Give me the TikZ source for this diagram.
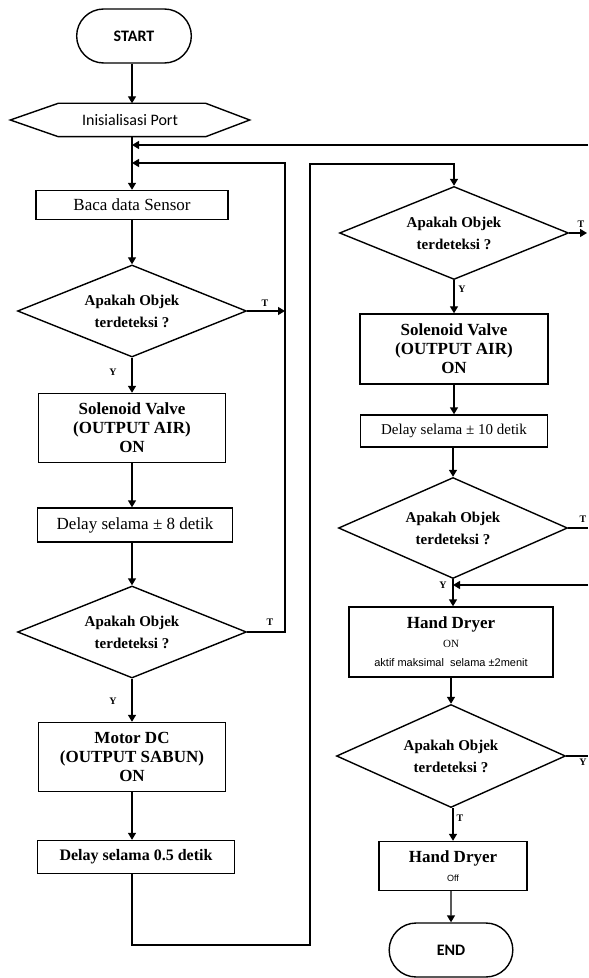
\documentclass[tikz,border=0pt]{standalone}
\usepackage{fontspec}
\setmainfont{Liberation Serif}
\newfontfamily\calibfont{Carlito}
\newfontfamily\tinysans{Liberation Sans}
\usetikzlibrary{shapes.geometric,shapes.misc,arrows.meta}

\begin{document}
\begin{tikzpicture}[x=0.5pt,y=-0.5pt,line width=0.7pt,
	flow/.style={-{Triangle[length=3.5pt,width=4pt]}},
	proc/.style 2 args={draw,rectangle,minimum width=#1,minimum height=#2,align=center,inner sep=1pt,font=\fontsize{8.5}{9.5}\selectfont},
	term/.style={draw,rounded rectangle,minimum width=#1,minimum height=27pt,font=\calibfont\bfseries\fontsize{8}{9}\selectfont},
	dec/.style={draw,diamond,aspect=2.5,minimum width=114.5pt,minimum height=#1,inner sep=0pt,align=center,font=\bfseries\fontsize{7.5}{11}\selectfont},
	lbl/.style={inner sep=0pt,font=\bfseries\fontsize{5}{6}\selectfont}]

	\useasboundingbox (0,0) rectangle (588,978);

	% left column
	\node[term=64pt] (start) at (134,36) {START};
	\node[minimum width=119pt,minimum height=16pt,inner sep=0pt,font=\calibfont\fontsize{8}{9}\selectfont] (init) at (130,120) {Inisialisasi Port};
	\draw (init.west) -- ([xshift=24pt]init.north west) -- ([xshift=-22pt]init.north east) -- (init.east)
		-- ([xshift=-22pt]init.south east) -- ([xshift=24pt]init.south west) -- cycle;
	\node[proc={96pt}{14.5pt}] (baca) at (132,205) {Baca data Sensor};
	\node[dec=46pt] (dec1) at (132,311) {Apakah Objek\\terdeteksi ?};
	\node[proc={93.5pt}{34.5pt}] (sol1) at (132,428) {\bfseries Solenoid Valve\\\bfseries (OUTPUT AIR)\\\bfseries ON};
	\node[proc={97.5pt}{17pt}] (delay1) at (135,525) {Delay selama ± 8 detik};
	\node[dec=46pt] (dec2) at (132,632) {Apakah Objek\\terdeteksi ?};
	\node[proc={93.5pt}{34.5pt}] (motor) at (132,757) {\bfseries Motor DC\\\bfseries (OUTPUT SABUN)\\\bfseries ON};
	\node[proc={98.5pt}{16.5pt},font=\bfseries\fontsize{8}{9.5}\selectfont] (delay2) at (136,857) {Delay selama 0.5 detik};

	% right column
	\node[dec=46.5pt] (dec3) at (454,233) {Apakah Objek\\terdeteksi ?};
	\node[proc={94pt}{35pt}] (sol2) at (454,349) {\bfseries Solenoid Valve\\\bfseries (OUTPUT AIR)\\\bfseries ON};
	\node[proc={93.5pt}{16pt},font=\fontsize{7.5}{9}\selectfont] (delay3) at (454,431) {Delay selama ± 10 detik};
	\node[dec=50.5pt] (dec4) at (453,528) {Apakah Objek\\terdeteksi ?};
	\node[proc={102pt}{35pt}] (hd1) at (451,642) {\bfseries Hand Dryer\\{\fontsize{5.5}{7}\selectfont ON}\\{\tinysans\fontsize{5.5}{6}\selectfont aktif maksimal\ \ selama ±2menit}};
	\node[dec=51.5pt] (dec5) at (451,756) {Apakah Objek\\terdeteksi ?};
	\node[proc={74pt}{24.5pt}] (hd2) at (453,866) {\bfseries Hand Dryer\\{\tinysans\fontsize{4.5}{6}\selectfont Off}};
	\node[term=68.5pt] (end) at (451,950) {END};

	% junctions and free ends
	\coordinate (j1) at (132,145);
	\coordinate (j2) at (132,163);
	\coordinate (k1) at (285,163);
	\coordinate (b1) at (132,945);
	\coordinate (b2) at (310,945);
	\coordinate (b3) at (310,164);
	\coordinate (j3) at (453,585);
	\coordinate (e1) at (588,145);
	\coordinate (e2) at (587,233);
	\coordinate (e3) at (588,528);
	\coordinate (e4) at (588,585);
	\coordinate (e5) at (588,756);

	\draw[flow] (start.south -| j1) -- (init.north -| j1);
	\draw[flow] (init.south -| j1) -- (baca);
	\draw[flow] (e1) -- (j1);
	\draw[flow] (baca) -- (dec1);
	\draw[flow] (dec1.east) -- (dec1.east -| k1);
	\draw[flow] (dec1) -- (sol1);
	\draw[flow] (sol1) -- (sol1.south |- delay1.north);
	\draw[flow] (sol1.south |- delay1.south) -- (sol1.south |- dec2.north);
	\draw[flow] (dec2.east) -- (dec2.east -| k1) -- (k1) -- (j2);
	\draw[flow] (dec2) -- (motor);
	\draw[flow] (motor) -- (motor.south |- delay2.north);
	\draw[flow] (delay2.south -| b1) -- (b1) -- (b2) -- (b3) -- (b3 -| dec3) -- (dec3);

	\draw[flow] (dec3.east) -- (e2);
	\draw[flow] (dec3) -- (sol2);
	\draw[flow] (sol2) -- (delay3);
	\draw[flow] (delay3.south -| dec4) -- (dec4);
	\draw (dec4.east) -- (e3);
	\draw[flow] (e4) -- (j3);
	\draw[flow] (dec4) -- (hd1.north -| dec4);
	\draw[flow] (hd1) -- (dec5);
	\draw (dec5.east) -- (e5);
	\draw[flow] (dec5.south -| hd2) -- (hd2);
	\draw[flow] (hd2.south -| end) -- (end);

	% branch labels
	\node[lbl] (t1) at (265,303) {T};
	\node[lbl] (y1) at (113,372) {Y};
	\node[lbl] (t2) at (270,622) {T};
	\node[lbl] (y2) at (113,701) {Y};
	\node[lbl] (t3) at (581,224) {T};
	\node[lbl] (y3) at (462,289) {Y};
	\node[lbl] (t4) at (583,519) {T};
	\node[lbl] (y4) at (443,585) {Y};
	\node[lbl] (y5) at (583,762) {Y};
	\node[lbl] (t5) at (460,818) {T};
\end{tikzpicture}
\end{document}
